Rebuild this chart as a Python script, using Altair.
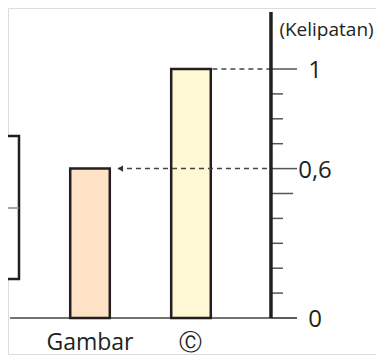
import altair as alt
import pandas as pd

# ---- data ----
categories = ["Gambar", "Ⓒ"]
values = [0.6, 1.0]
bar_colors = ["#FDE2C6", "#FEF8D5"]
tick_values = [round(i * 0.1, 1) for i in range(11)]
tick_labels = {0.0: "0", 0.6: "0,6", 1.0: "1"}
axis_title = "(Kelipatan)"
# partially visible box at left edge (top, divider, bottom) in chart units
box_levels = [0.731, 0.442, 0.157]

# ---- layout (scale units: category index on x, value on y) ----
X_DOMAIN = [-0.812, 2.832]
Y_DOMAIN = [-0.1446, 1.245]
AXIS_X = 1.792
LABEL_X = 2.228
BAR_HALF = 0.196
INK = "#231f20"
FONT = "Open Sans"

xs = alt.Scale(domain=X_DOMAIN, nice=False, zero=False)
ys = alt.Scale(domain=Y_DOMAIN, nice=False, zero=False)
X = lambda f: alt.X(f, type="quantitative", scale=xs, axis=None)
Y = lambda f: alt.Y(f, type="quantitative", scale=ys, axis=None)

bars_df = pd.DataFrame({
    "cat": categories,
    "value": values,
    "color": bar_colors,
    "pos": list(range(len(categories))),
})
bars_df["x0"] = bars_df["pos"] - BAR_HALF
bars_df["x1"] = bars_df["pos"] + BAR_HALF
bars_df["zero"] = 0.0
bars_df["label_y"] = -0.102

bars = alt.Chart(bars_df).mark_rect(stroke=INK, strokeWidth=2.5).encode(
    x=X("x0"), x2="x1", y=Y("zero"), y2="value",
    fill=alt.Fill("color:N", scale=None),
)
cat_text = alt.Chart(bars_df).mark_text(
    font=FONT, fontSize=23, color=INK, baseline="middle", align="center"
).encode(x=X("pos"), y=Y("label_y"), text="cat:N")

# left partial box
box_df = pd.DataFrame({"x0": [-1.2], "x1": [-0.703], "top": [box_levels[0]], "bot": [box_levels[2]]})
box = alt.Chart(box_df).mark_rect(fill="white", stroke=INK, strokeWidth=2.5).encode(
    x=X("x0"), x2="x1", y=Y("bot"), y2="top"
)
box_mid_df = pd.DataFrame({"x0": [-1.2], "x1": [-0.703], "y": [box_levels[1]]})
box_mid = alt.Chart(box_mid_df).mark_rule(stroke="#888", strokeWidth=1.5).encode(
    x=X("x0"), x2="x1", y=Y("y")
)

# baseline
base_df = pd.DataFrame({"x0": [-0.792], "x1": [2.05], "y": [0.0]})
baseline = alt.Chart(base_df).mark_rule(stroke="#444", strokeWidth=1.5).encode(
    x=X("x0"), x2="x1", y=Y("y")
)

# ticks
tick_df = pd.DataFrame({"v": tick_values})
tick_df["x0"] = AXIS_X
tick_df["x1"] = [2.05 if v in tick_labels else (2.01 if abs(v - 0.5) < 1e-9 else 1.911) for v in tick_values]
ticks = alt.Chart(tick_df).mark_rule(stroke="#555", strokeWidth=1.5).encode(
    x=X("x0"), x2="x1", y=Y("v")
)

# vertical axis line
axis_df = pd.DataFrame({"x": [AXIS_X], "y0": [0.0], "y1": [1.229]})
axis_line = alt.Chart(axis_df).mark_rule(stroke=INK, strokeWidth=3.5).encode(
    x=X("x"), y=Y("y0"), y2="y1"
)

lab_df = pd.DataFrame({"v": list(tick_labels.keys()), "t": list(tick_labels.values())})
lab_df["x"] = LABEL_X
labels = alt.Chart(lab_df).mark_text(
    font=FONT, fontSize=24, color=INK, align="center", baseline="middle", dy=2
).encode(x=X("x"), y=Y("v"), text="t:N")

title_df = pd.DataFrame({"x": [2.342], "y": [1.157], "t": [axis_title]})
title = alt.Chart(title_df).mark_text(
    font=FONT, fontSize=19, color=INK, align="center", baseline="middle"
).encode(x=X("x"), y=Y("y"), text="t:N")

# dashed guide lines
dash_df = pd.DataFrame({
    "x0": [1 + BAR_HALF + 0.016, 0.277],
    "x1": [AXIS_X, AXIS_X],
    "y": [values[1], values[0]],
})
dashes = alt.Chart(dash_df).mark_rule(stroke="#444", strokeWidth=1.5, strokeDash=[5, 4]).encode(
    x=X("x0"), x2="x1", y=Y("y")
)
arrow_df = pd.DataFrame({"x": [0.30], "y": [values[0]]})
arrow = alt.Chart(arrow_df).mark_point(
    shape="triangle-left", filled=True, color="#333", size=40, opacity=1
).encode(x=X("x"), y=Y("y"))

chart = alt.layer(
    box, box_mid, baseline, bars, dashes, arrow, ticks, axis_line, labels, title, cat_text
).properties(
    width=368, height=346,
    autosize=alt.AutoSizeParams(type="none"),
    padding={"left": 0, "top": 0, "right": 0, "bottom": 8},
).configure_view(stroke=None).configure(background="white")

chart.save("out.html", embed_options={"renderer": "svg", "actions": False})
